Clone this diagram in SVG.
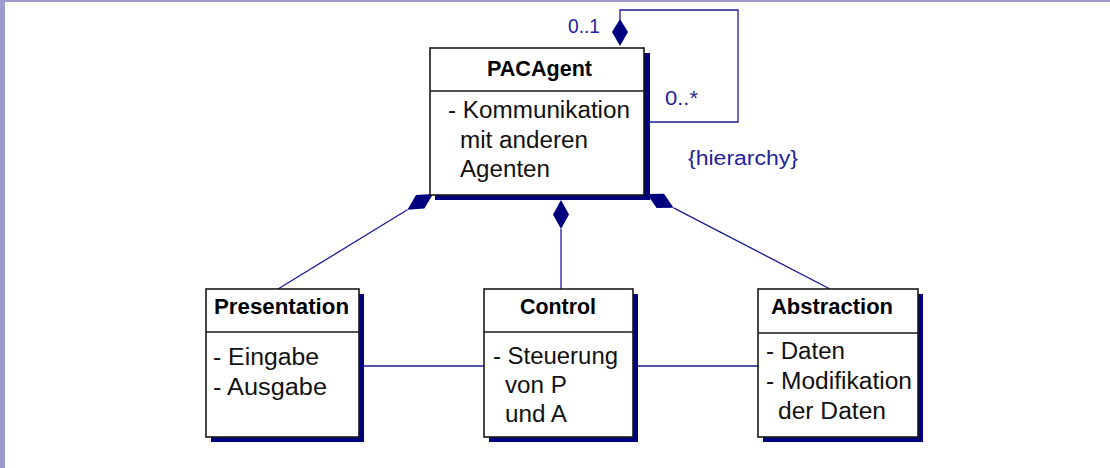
<svg xmlns="http://www.w3.org/2000/svg" width="1110" height="468" viewBox="0 0 1110 468">
  <style>
    .frame { fill: #9d9bcd; }
    .shadow { fill: #00007f; }
    .box { fill: #ffffff; stroke: #1a1a1a; stroke-width: 1.6; }
    .div { stroke: #1a1a1a; stroke-width: 1.6; }
    .title { font-family: "Liberation Sans", Arial, sans-serif; font-weight: bold; font-size: 22px; fill: #000000; }
    .attr { font-family: "Liberation Sans", Arial, sans-serif; font-size: 23px; fill: #111111; }
    .lbl { font-family: "Liberation Sans", Arial, sans-serif; font-size: 20px; fill: #22229c; }
    .conn { fill: none; stroke: #1c1c96; stroke-width: 1.3; }
    .comp { fill: #00007f; stroke: none; }
  </style>

  <rect width="1110" height="468" fill="#ffffff"/>
  <rect class="frame" x="0" y="0" width="5" height="468"/>
  <rect class="frame" x="0" y="0" width="1110" height="2"/>

  <!-- associations and compositions -->
  <g id="connectors">
    <path class="conn" d="M620 20 V10 H738 V122 H650"/>
    <polygon class="comp" points="620,19 628,32 620,46 612,32"/>
    <path class="conn" d="M407.4 209.7 L278 289"/>
    <polygon class="comp" points="433,194 424.4,208.6 407.4,209.7 416,195"/>
    <path class="conn" d="M561 229 V289"/>
    <polygon class="comp" points="561,200 569,214.5 561,229 553,214.5"/>
    <path class="conn" d="M673.6 207.8 L830 289"/>
    <polygon class="comp" points="647,194 664,193.8 673.6,207.8 656.6,208"/>
    <path class="conn" d="M364 366 H484"/>
    <path class="conn" d="M638 366 H758"/>
  </g>

  <text class="lbl" x="568" y="33" textLength="32" lengthAdjust="spacingAndGlyphs">0..1</text>
  <text class="lbl" x="665" y="105" textLength="33" lengthAdjust="spacingAndGlyphs">0..*</text>
  <text class="lbl" x="688" y="165" textLength="110" lengthAdjust="spacingAndGlyphs">{hierarchy}</text>

  <g id="PACAgent">
    <rect class="shadow" x="435" y="53" width="215" height="147"/>
    <rect class="box" x="430" y="48" width="214" height="147"/>
    <line class="div" x1="430" y1="91" x2="644" y2="91"/>
    <text class="title" x="487" y="76" textLength="105" lengthAdjust="spacingAndGlyphs">PACAgent</text>
    <text class="attr" x="448" y="118" textLength="182" lengthAdjust="spacingAndGlyphs">- Kommunikation</text>
    <text class="attr" x="460" y="148" textLength="128" lengthAdjust="spacingAndGlyphs">mit anderen</text>
    <text class="attr" x="460" y="177" textLength="90" lengthAdjust="spacingAndGlyphs">Agenten</text>
  </g>

  <g id="Presentation">
    <rect class="shadow" x="211" y="294" width="153" height="148"/>
    <rect class="box" x="206" y="289" width="153" height="148"/>
    <line class="div" x1="206" y1="332" x2="359" y2="332"/>
    <text class="title" x="214" y="314" textLength="135" lengthAdjust="spacingAndGlyphs">Presentation</text>
    <text class="attr" x="213" y="365" textLength="106" lengthAdjust="spacingAndGlyphs">- Eingabe</text>
    <text class="attr" x="213" y="395" textLength="114" lengthAdjust="spacingAndGlyphs">- Ausgabe</text>
  </g>

  <g id="Control">
    <rect class="shadow" x="489" y="294" width="149" height="148"/>
    <rect class="box" x="484" y="289" width="149" height="148"/>
    <line class="div" x1="484" y1="332" x2="633" y2="332"/>
    <text class="title" x="520" y="314" textLength="76" lengthAdjust="spacingAndGlyphs">Control</text>
    <text class="attr" x="493" y="364" textLength="125" lengthAdjust="spacingAndGlyphs">- Steuerung</text>
    <text class="attr" x="505" y="393" textLength="62" lengthAdjust="spacingAndGlyphs">von P</text>
    <text class="attr" x="505" y="422" textLength="62" lengthAdjust="spacingAndGlyphs">und A</text>
  </g>

  <g id="Abstraction">
    <rect class="shadow" x="763" y="294" width="160" height="148"/>
    <rect class="box" x="758" y="289" width="160" height="148"/>
    <line class="div" x1="758" y1="333" x2="918" y2="333"/>
    <text class="title" x="771" y="314" textLength="122" lengthAdjust="spacingAndGlyphs">Abstraction</text>
    <text class="attr" x="766" y="359" textLength="79" lengthAdjust="spacingAndGlyphs">- Daten</text>
    <text class="attr" x="766" y="389" textLength="146" lengthAdjust="spacingAndGlyphs">- Modifikation</text>
    <text class="attr" x="778" y="419" textLength="108" lengthAdjust="spacingAndGlyphs">der Daten</text>
  </g>
</svg>
